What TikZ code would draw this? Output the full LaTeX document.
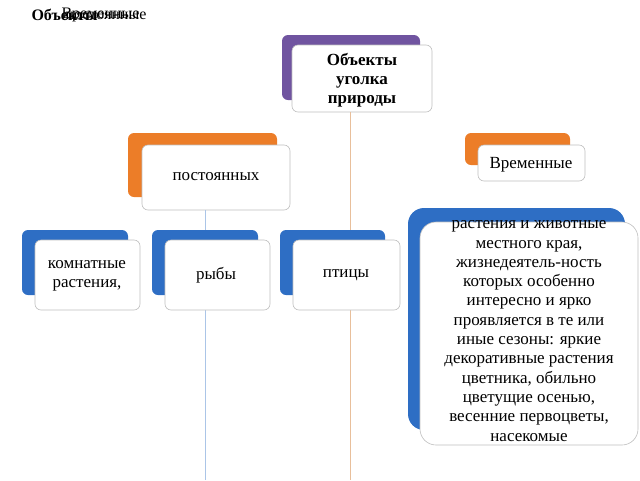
\documentclass[tikz,border=0pt]{standalone}
\usepackage{fontspec}
\setmainfont{Liberation Serif}
\begin{document}
\begin{tikzpicture}[x=1pt,y=-1pt,
  back/.style={rounded corners=6pt},
  front/.style={rounded corners=6pt,fill=white!94!blue!3,draw=gray!50,line width=0.6pt},
  lbl/.style={align=center,font=\fontsize{17}{19}\selectfont}]
\useasboundingbox (0,0) rectangle (640,480);
\definecolor{purp}{RGB}{112,84,160}
\definecolor{orng}{RGB}{236,125,40}
\definecolor{blu}{RGB}{46,110,196}
% top-left overlapping titles
\node[anchor=west,font=\fontsize{16}{18}\selectfont\bfseries] (t1) at (28,15) {Объекты};
\node[anchor=west,font=\fontsize{16}{18}\selectfont] (t2) at (58,15) {Временные};
\node[anchor=west,font=\fontsize{16}{18}\selectfont] (t3) at (62,16) {постоянные};
% connector lines
\coordinate (e1) at (350,480);
\coordinate (e2) at (205,480);
% top box
\fill[purp,back] (282,35) rectangle (420,100);
\draw[front] (292,45) rectangle (432,112);
\node[lbl,font=\fontsize{17}{19}\selectfont\bfseries] (top) at (362,80) {Объекты\\уголка\\природы};
\draw[orng!40!brown!50,line width=0.8pt] (350,112) -- (e1);
% postoyannyh
\fill[orng,back] (128,133) rectangle (277,197);
\draw[front] (142,145) rectangle (290,210);
\node[lbl] (post) at (216,177) {постоянных};
\draw[blu!40,line width=0.8pt] (205,210) -- (e2);
% vremennye
\fill[orng,back] (465,133) rectangle (570,165);
\draw[front] (478,145) rectangle (585,181);
\node[lbl] (vrem) at (531,165) {Временные};
% blue boxes
\fill[blu,back] (22,230) rectangle (128,295);
\draw[front] (35,240) rectangle (140,310);
\node[lbl] (komn) at (87,276) {комнатные\\растения,};
\fill[blu,back] (152,230) rectangle (258,295);
\draw[front] (165,240) rectangle (270,310);
\node[lbl] (ryby) at (216,275) {рыбы};
\fill[blu,back] (280,230) rectangle (385,295);
\draw[front] (293,240) rectangle (400,310);
\node[lbl] (ptic) at (346,275) {птицы};
\fill[blu,rounded corners=16pt] (408,208) rectangle (625,430);
\draw[front,rounded corners=16pt] (420,222) rectangle (638,445);
\node[lbl,font=\fontsize{17}{19.3}\selectfont] (big) at (529,331) {растения и животные\\местного края,\\жизнедеятель-ность\\которых особенно\\интересно и ярко\\проявляется в те или\\иные сезоны: яркие\\декоративные растения\\цветника, обильно\\цветущие осенью,\\весенние первоцветы,\\насекомые};
\end{tikzpicture}
\end{document}
